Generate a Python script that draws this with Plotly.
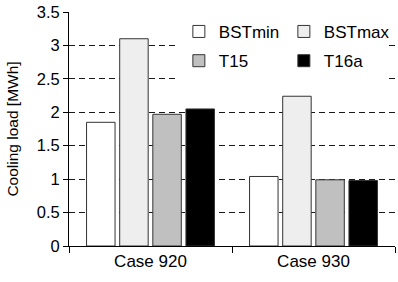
import plotly.graph_objects as go

categories = ["Case 920", "Case 930"]
series_names = ["BSTmin", "BSTmax", "T15", "T16a"]
bstmin = [1.85, 1.04]
bstmax = [3.10, 2.24]
t15 = [1.97, 0.99]
t16a = [2.05, 0.98]
y_ticks = [0, 0.5, 1, 1.5, 2, 2.5, 3, 3.5]
y_tick_labels = ["0", "0.5", "1", "1.5", "2", "2.5", "3", "3.5"]

colors = ["#ffffff", "#eeeeee", "#c0c0c0", "#000000"]
legend_ids = ["legend", "legend", "legend2", "legend2"]
values = [bstmin, bstmax, t15, t16a]

font = "Liberation Sans, Arial, sans-serif"
fig = go.Figure()

for name, vals, col, lg in zip(series_names, values, colors, legend_ids):
    fig.add_trace(go.Bar(
        x=categories, y=vals, name=name, legend=lg,
        marker=dict(color=col, line=dict(color="#333333", width=1)),
    ))

leg_common = dict(
    orientation="h", xanchor="left", yanchor="middle",
    bgcolor="white", entrywidth=60, entrywidthmode="pixels",
    font=dict(size=17, family=font), itemwidth=30,
)
fig.update_layout(
    width=398, height=282,
    margin=dict(l=69, r=3, t=12, b=36),
    paper_bgcolor="white", plot_bgcolor="white",
    barmode="group", bargap=0.187, bargroupgap=0.14,
    font=dict(family=font, size=16, color="black"),
    showlegend=True,
    legend=dict(x=0.337, y=0.915, **leg_common),
    legend2=dict(x=0.337, y=0.79, **leg_common),
    xaxis=dict(
        showline=True, linecolor="black", linewidth=1,
        ticks="outside", tickson="boundaries", ticklen=6, tickcolor="black",
        showgrid=False, tickfont=dict(size=17),
    ),
    yaxis=dict(
        range=[0, 3.5], tickvals=y_ticks, ticktext=y_tick_labels,
        showline=True, linecolor="black", linewidth=1,
        ticks="outside", ticklen=5, tickcolor="black",
        showgrid=True, gridcolor="#1a1a1a", griddash="6px,4px", gridwidth=1,
        zeroline=False, tickfont=dict(size=16.5),
        title=dict(text="Cooling load [MWh]", font=dict(size=15.5), standoff=14),
    ),
)

fig.write_html("out.html")
